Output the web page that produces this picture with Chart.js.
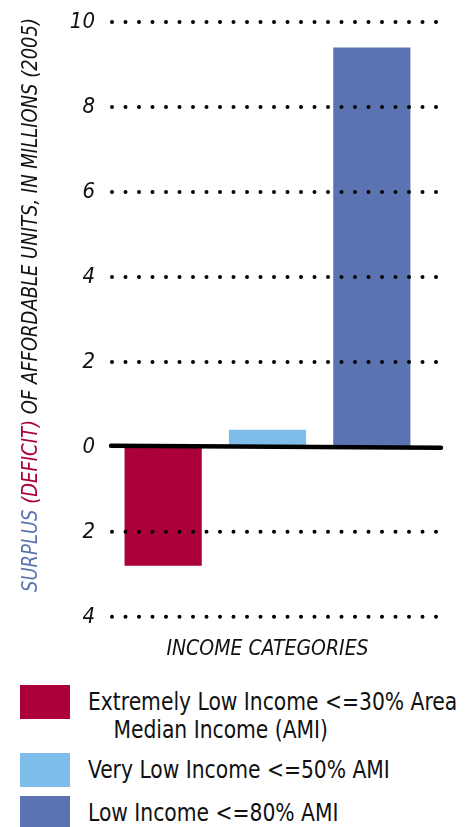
<!DOCTYPE html>
<html>
<head>
<meta charset="utf-8">
<script src="https://cdn.jsdelivr.net/npm/chart.js@4.4.1/dist/chart.umd.min.js"></script>
<style>
  html, body { margin: 0; padding: 0; background: #fff; }
  body { width: 474px; height: 827px; overflow: hidden; position: relative;
         font-family: 'Liberation Sans Narrow', 'DejaVu Sans Condensed', sans-serif; }
  #wrap { position: absolute; left: 0; top: 0; width: 474px; height: 672px; }
  .legend { position: absolute; left: 20px; top: 685px; }
  .item { position: relative; height: 43px; }
  .box { position: absolute; left: 0; top: 0; width: 50px; height: 34px; }
  .txt { position: absolute; left: 68px; top: 3px; font-size: 24px; line-height: 28px; color: #111;
         white-space: nowrap; transform: scaleX(0.94); transform-origin: 0 0; }
  .txt .ind { padding-left: 27px; }
</style>
</head>
<body>
<div id="wrap"><canvas id="c"></canvas></div>
<div class="legend" id="legend"></div>
<script>
const categories = ['Extremely Low Income', 'Very Low Income', 'Low Income'];
const legendLabels = [
  ['Extremely Low Income <=30% Area', 'Median Income (AMI)'],
  ['Very Low Income <=50% AMI'],
  ['Low Income <=80% AMI']
];
const surplus = [-2.8, 0.4, 9.4];
const barColors = ['#AB003A', '#7EBDEA', '#5B73B0'];
const yTicks = [-4, -2, 0, 2, 4, 6, 8, 10];

const FONT = "'Liberation Sans Narrow', 'DejaVu Sans Condensed', sans-serif";

// dotted grid + heavy zero line, drawn over the bars
const gridPlugin = {
  id: 'dotGrid',
  afterDatasetsDraw(chart) {
    const ctx = chart.ctx;
    const y = chart.scales.y;
    ctx.save();
    ctx.lineCap = 'round';
    ctx.strokeStyle = '#000';
    yTicks.forEach(v => {
      const py = y.getPixelForValue(v);
      ctx.beginPath();
      if (v === 0) {
        ctx.setLineDash([]);
        ctx.lineWidth = 4.5;
        ctx.moveTo(111, py - 1);
        ctx.lineTo(441, py + 1);
      } else {
        ctx.setLineDash([0, 13.5]);
        ctx.lineWidth = 4;
        ctx.moveTo(112, py);
        ctx.lineTo(440, py);
      }
      ctx.stroke();
    });
    ctx.restore();
  }
};

// multi-coloured rotated y-axis title
const titlePlugin = {
  id: 'yTitle',
  afterDraw(chart) {
    const ctx = chart.ctx;
    const parts = [
      ['SURPLUS ', '#5B73B0'],
      ['(DEFICIT) ', '#AB003A'],
      ['OF AFFORDABLE UNITS, IN MILLIONS (2005)', '#111']
    ];
    ctx.save();
    ctx.font = 'italic 21px ' + FONT;
    const total = parts.reduce((s, p) => s + ctx.measureText(p[0]).width, 0);
    const target = 574;
    ctx.translate(37, 592);
    ctx.rotate(-Math.PI / 2);
    ctx.scale(target / total, 1);
    ctx.textBaseline = 'alphabetic';
    let x = 0;
    parts.forEach(p => {
      ctx.fillStyle = p[1];
      ctx.fillText(p[0], x, 0);
      x += ctx.measureText(p[0]).width;
    });
    ctx.restore();
  }
};

new Chart(document.getElementById('c'), {
  type: 'bar',
  data: {
    labels: categories,
    datasets: [{
      data: surplus,
      backgroundColor: barColors,
      borderWidth: 0,
      barPercentage: 0.74,
      categoryPercentage: 1
    }]
  },
  options: {
    responsive: true,
    maintainAspectRatio: false,
    animation: false,
    layout: { padding: { top: 22, right: 50, bottom: 10, left: 0 } },
    plugins: { legend: { display: false }, tooltip: { enabled: false } },
    scales: {
      x: {
        grid: { display: false, drawTicks: false },
        border: { display: false },
        ticks: { display: false },
        title: {
          display: true,
          text: 'INCOME CATEGORIES',
          color: '#111',
          font: { family: FONT, size: 21, style: 'italic' },
          padding: { top: 20, bottom: 0 }
        }
      },
      y: {
        min: -4,
        max: 10,
        afterFit(scale) {
          scale.width = 111;
          scale.paddingTop = 0;
          scale.paddingBottom = 0;
        },
        afterBuildTicks(scale) { scale.ticks = yTicks.map(v => ({ value: v })); },
        grid: { display: false, drawTicks: false },
        border: { display: false },
        ticks: {
          padding: 16,
          color: '#111',
          font: { family: FONT, size: 22, style: 'italic' },
          callback: v => String(Math.abs(v))
        }
      }
    }
  },
  plugins: [gridPlugin, titlePlugin]
});

const legend = document.getElementById('legend');
legendLabels.forEach((lines, i) => {
  const item = document.createElement('div');
  item.className = 'item';
  if (lines.length > 1) item.style.height = '68px';
  const box = document.createElement('div');
  box.className = 'box';
  box.style.background = barColors[i];
  const txt = document.createElement('div');
  txt.className = 'txt';
  lines.forEach((l, j) => {
    const d = document.createElement('div');
    if (j > 0) d.className = 'ind';
    d.textContent = l;
    txt.appendChild(d);
  });
  item.appendChild(box);
  item.appendChild(txt);
  legend.appendChild(item);
});
</script>
</body>
</html>
